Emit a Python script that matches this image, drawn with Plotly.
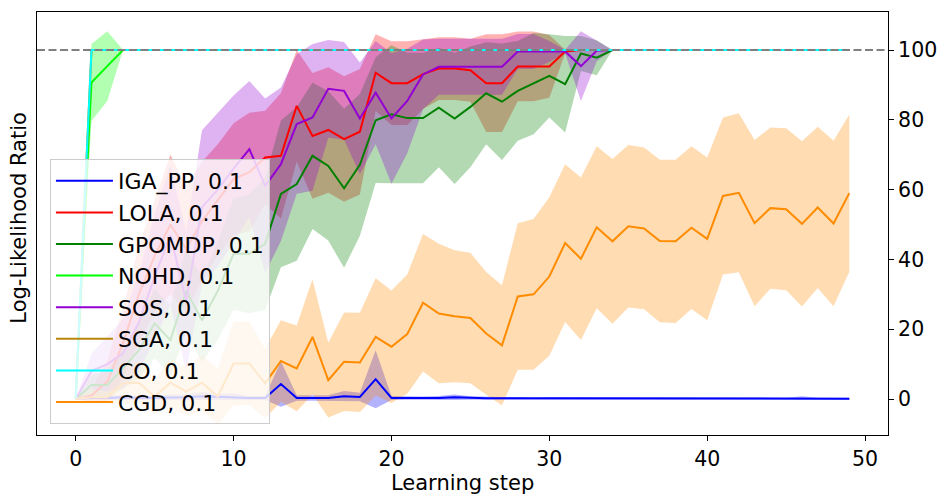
import numpy as np
import plotly.graph_objects as go

steps = list(range(50))

iga_mean = [0,0.3,0.3,0.5,0.3,0.3,0.5,0.5,0.8,0.6,0.6,0.3,0.3,4.3,0.3,0.3,0.3,0.8,0.6,5.7,
            0.3,0.3,0.2,0.3,0.5,0.3,0.2,0.2,0.2,0.1,0.2,0.2,0.2,0.1,0.1,0.1,0.1,0.1,0.1,0.1,
            0.1,0.2,0.1,0.1,0.1,0.1,0.3,0.1,0.1,0.1]
iga_std = [0,0.5,0.6,0.8,0.6,0.6,0.8,0.8,1.2,1,1,0.6,0.6,6.5,0.8,0.8,0.8,1.5,1.2,8.3,
           0.6,0.5,0.5,0.6,0.8,0.5,0.4,0.4,0.4,0.3,0.4,0.4,0.4,0.3,0.3,0.3,0.3,0.3,0.3,0.3,
           0.3,0.4,0.3,0.3,0.3,0.3,0.5,0.3,0.3,0.3]

lola_mean = [0,1,5,16,30,41,50,43,51,57,63,65,69.2,69.7,84,75.4,77.1,74.5,76.6,93.5,
             90.5,90.5,93.1,94.7,94.7,94.2,90.5,90.5,95.3,95.3,95.3,99.6] + [100]*18
lola_std = [0,2,6,10,14,16,20,18,17,16,16,17,13.4,18,16,18,18,18,18,11,
            12,12,10,9,9,9,14,14,10,10,9,0.5] + [0]*18

gpomdp_mean = [0,4,4,8.8,14,21.7,16.9,31,22.6,31,41.6,41.6,44.5,58.8,61.6,69.7,66.8,60.4,67.1,79.9,
               81.6,80.5,80.5,83.5,80.4,83.7,87.6,85.2,88.3,90.4,92.6,90.2,99,97.8] + [100]*16
gpomdp_std = [0,3,4,6,8,10,10,12,12,14,16,17,19,21,22,21,21.4,22.8,20.3,18,
              19.8,18.7,18.7,17.1,18.8,17.3,14.6,16.7,14.3,14.5,11.9,13.8,5,5] + [0]*16

nohd_mean = [0,90.7,95.4] + [100]*47
nohd_std = [0,11,10] + [0]*47

sos_mean = [0,8,10,13,22,35,47,28,55,60,66,71.6,61.1,67.3,78.8,80.7,88.9,88.3,80.4,87.8,
            80.4,85.4,93,95.2,95.2,95.2,95.2,95.2,99.6,99.6,99.6,99.6,95.4,99.8] + [100]*16
sos_std = [0,5,8,10,14,18,20,20,22,22,21,19.5,25,22,20,21,14,14,16,14.8,
           18.7,15,10,8,8,8,8,8,5,5,3,0.5,10,3] + [0]*16

sga_mean = [0] + [100]*49
sga_std = [0]*50

co_mean = [0] + [100]*49
co_std = [0]*50

cgd_mean = [0,0.5,0.5,4.5,4.7,0.7,4.7,2.1,4.7,0.7,10.2,10.2,4.5,10.9,8.8,17.8,5.4,10.7,10.5,17.8,
            15,18.6,27.6,24.5,23.7,23.2,18.8,15.4,29.4,30,35.1,44.7,40.2,49.2,45.2,49.5,48.9,45.3,45.2,49.1,
            45.9,58.2,59.1,50.4,54.7,54.4,50.2,54.9,50.3,59]
cgd_std = [0,1,1.5,6,6,5,7,7,8,8,12,12,10,11.7,12.3,16.5,10.7,14.1,14.2,16.8,
           16.1,17.1,19.7,20,18.9,18.7,17.6,17.2,21,21.6,22.7,22.6,23.3,23.2,23.6,23.3,23.2,23.3,23.4,23.3,
           23.3,22.5,22.8,23.8,23.1,23.2,23.7,23.1,23.7,22.5]

names = ["IGA_PP, 0.1", "LOLA, 0.1", "GPOMDP, 0.1", "NOHD, 0.1",
         "SOS, 0.1", "SGA, 0.1", "CO, 0.1", "CGD, 0.1"]
means = [iga_mean, lola_mean, gpomdp_mean, nohd_mean, sos_mean, sga_mean, co_mean, cgd_mean]
stds = [iga_std, lola_std, gpomdp_std, nohd_std, sos_std, sga_std, co_std, cgd_std]
colors = [(0, 0, 255), (255, 0, 0), (0, 128, 0), (0, 255, 0),
          (148, 0, 211), (184, 134, 11), (0, 255, 255), (255, 140, 0)]

target_value = 100

fig = go.Figure()

for m, s, c in zip(means, stds, colors):
    m = np.array(m, dtype=float)
    s = np.array(s, dtype=float)
    fig.add_trace(go.Scatter(x=steps, y=m + s, mode="lines", line=dict(width=0),
                             showlegend=False, hoverinfo="skip"))
    fig.add_trace(go.Scatter(x=steps, y=m - s, mode="lines", line=dict(width=0),
                             fill="tonexty", fillcolor="rgba(%d,%d,%d,0.3)" % c,
                             showlegend=False, hoverinfo="skip"))

for i, (n, m, c) in enumerate(zip(names, means, colors)):
    fig.add_trace(go.Scatter(x=steps, y=m, mode="lines", name=n, legendgroup="g%d" % i,
                             line=dict(color="rgb(%d,%d,%d)" % c, width=2)))

fig.add_trace(go.Scatter(x=[-2.45, 51.45], y=[target_value, target_value], mode="lines",
                         line=dict(color="rgb(128,128,128)", width=2, dash="8px,3.5px"),
                         showlegend=False, hoverinfo="skip"))

font = "DejaVu Sans"
fig.update_layout(
    width=948, height=499,
    margin=dict(l=37, r=56, t=11, b=64),
    paper_bgcolor="white", plot_bgcolor="white",
    font=dict(family=font, size=20, color="black"),
    showlegend=True,
    legend=dict(x=0.0152, y=0.026, xanchor="left", yanchor="bottom",
                bgcolor="rgba(255,255,255,0.8)", bordercolor="#cccccc", borderwidth=1,
                font=dict(family=font, size=22, color="black"), itemwidth=57,
                traceorder="normal", tracegroupgap=1, entrywidth=215,
                entrywidthmode="pixels"),
    xaxis=dict(range=[-2.45, 51.45], tickvals=[0, 10, 20, 30, 40, 50], ticks="outside",
               ticklen=5, tickwidth=1, tickcolor="black", showline=True, linecolor="black",
               linewidth=1, mirror=True, showgrid=False, zeroline=False,
               tickfont=dict(family=font, size=20.5)),
    yaxis=dict(range=[-10.3, 110.9], tickvals=[0, 20, 40, 60, 80, 100], side="right",
               ticks="outside", ticklen=5, tickwidth=1, tickcolor="black", showline=True,
               linecolor="black", linewidth=1, mirror=True, showgrid=False, zeroline=False,
               tickfont=dict(family=font, size=20.5)),
    annotations=[
        dict(text="Learning step", x=0.5, y=-0.113, xref="paper", yref="paper",
             showarrow=False, font=dict(family=font, size=21), xanchor="center", yanchor="middle"),
        dict(text="Log-Likelihood Ratio", x=-0.0222, y=0.514, xref="paper", yref="paper",
             showarrow=False, textangle=-90, font=dict(family=font, size=21),
             xanchor="center", yanchor="middle"),
    ],
)

fig.write_html("out.html")
